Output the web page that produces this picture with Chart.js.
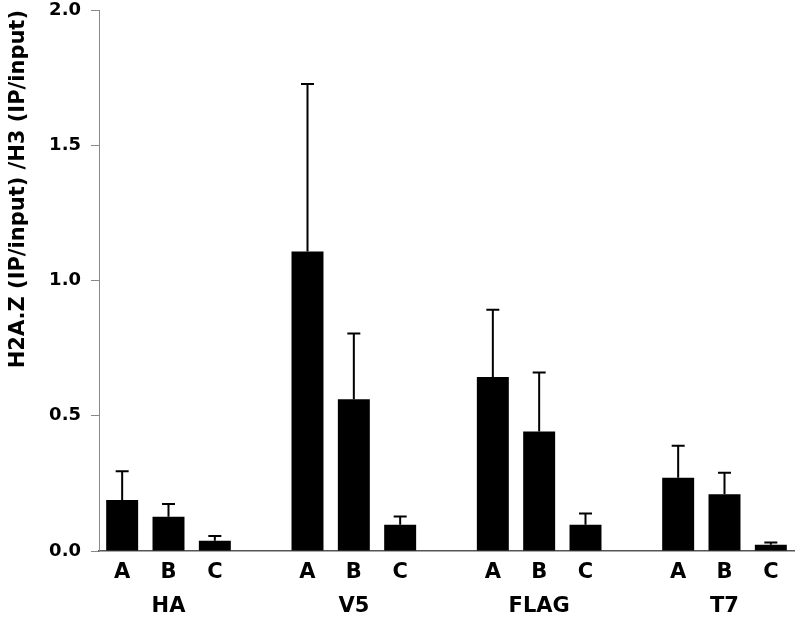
<!DOCTYPE html>
<html>
<head>
<meta charset="utf-8">
<script src="https://cdn.jsdelivr.net/npm/chart.js@4"></script>
<style>
  html, body { margin: 0; padding: 0; background: #fff; }
  #wrap { width: 796px; height: 620px; }
</style>
</head>
<body>
<div id="wrap"><canvas id="c" width="796" height="620"></canvas></div>
<script>
// ---- data ----
const groups = ['HA', 'V5', 'FLAG', 'T7'];
const subLabels = ['A', 'B', 'C'];
const meanHA   = [0.189, 0.127, 0.038];
const meanV5   = [1.107, 0.561, 0.097];
const meanFLAG = [0.643, 0.442, 0.097];
const meanT7   = [0.271, 0.210, 0.023];
const errHA    = [0.106, 0.047, 0.017];
const errV5    = [0.619, 0.243, 0.031];
const errFLAG  = [0.249, 0.218, 0.042];
const errT7    = [0.118, 0.079, 0.008];
const yTicks = [0, 0.5, 1.0, 1.5, 2.0];
const yTitle = 'H2A.Z (IP/input) /H3 (IP/input)';

// ---- build category table (blank slot between groups) ----
const means = [meanHA, meanV5, meanFLAG, meanT7];
const errs = [errHA, errV5, errFLAG, errT7];
const labels = [], values = [], errors = [];
groups.forEach((g, gi) => {
  subLabels.forEach((s, si) => {
    labels.push(si === 1 ? [s, g] : [s, '']);
    values.push(means[gi][si]);
    errors.push(errs[gi][si]);
  });
  if (gi < groups.length - 1) { labels.push(['', '']); values.push(null); errors.push(null); }
});

const FONT = '"DejaVu Sans"';

const errorBars = {
  id: 'errorBars',
  afterDatasetsDraw(chart) {
    const ctx = chart.ctx;
    const meta = chart.getDatasetMeta(0);
    const yScale = chart.scales.y;
    ctx.save();
    ctx.strokeStyle = '#000';
    ctx.lineWidth = 2;
    meta.data.forEach((bar, i) => {
      const v = values[i], e = errors[i];
      if (v == null || e == null) return;
      const x = bar.x;
      const yTop = yScale.getPixelForValue(v);
      const yUp = yScale.getPixelForValue(v + e);
      ctx.beginPath();
      ctx.moveTo(x, yTop);
      ctx.lineTo(x, yUp);
      ctx.moveTo(x - 6.5, yUp);
      ctx.lineTo(x + 6.5, yUp);
      ctx.stroke();
    });
    ctx.restore();
  }
};

new Chart(document.getElementById('c'), {
  type: 'bar',
  data: {
    labels: labels,
    datasets: [{
      data: values,
      backgroundColor: '#000',
      borderWidth: 0,
      categoryPercentage: 1.0,
      barPercentage: 0.69
    }]
  },
  options: {
    responsive: false,
    animation: false,
    devicePixelRatio: 1,
    layout: { padding: { top: 0, right: 2, left: 0, bottom: 0 } },
    plugins: { legend: { display: false }, tooltip: { enabled: false } },
    scales: {
      x: {
        grid: { display: false },
        border: { display: true, color: '#555', width: 1.5 },
        ticks: {
          color: '#000',
          font: { family: FONT, size: 21, weight: 'bold', lineHeight: 1.6 },
          padding: -3,
          maxRotation: 0,
          autoSkip: false
        },
        afterFit(scale) { scale.height = 69; }
      },
      y: {
        min: 0,
        max: 2.0,
        afterBuildTicks(scale) { scale.ticks = yTicks.map(v => ({ value: v })); },
        grid: { display: true, drawOnChartArea: false, drawTicks: true, tickLength: 8, color: '#888', lineWidth: 1 },
        border: { display: true, color: '#888', width: 1 },
        ticks: {
          color: '#000',
          font: { family: FONT, size: 18, weight: 'bold' },
          padding: 10,
          callback: (v) => Number(v).toFixed(1)
        },
        title: {
          display: true,
          text: yTitle,
          align: 'end',
          color: '#000',
          font: { family: FONT, size: 21, weight: 'bold' },
          padding: { top: 6, bottom: 10 }
        },
        afterFit(scale) { scale.width = 99; scale.paddingTop = 10; }
      }
    }
  },
  plugins: [errorBars]
});
</script>
</body>
</html>
